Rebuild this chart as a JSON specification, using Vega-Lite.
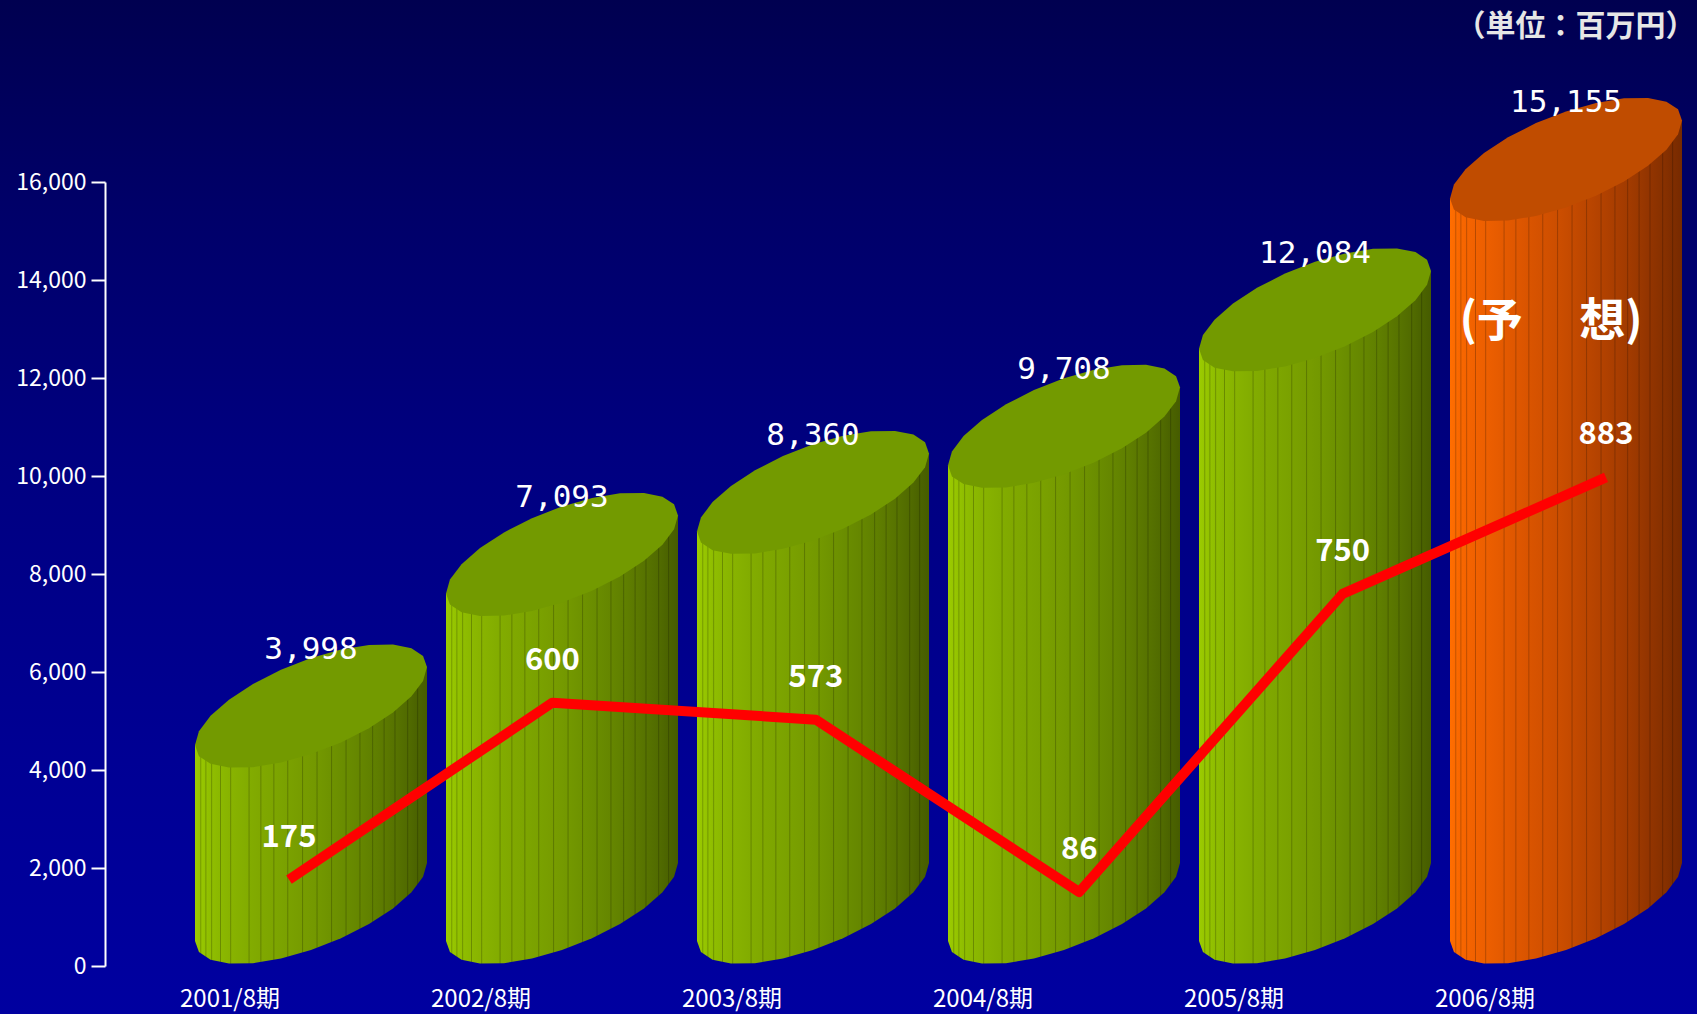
{
  "$schema": "https://vega.github.io/schema/vega-lite/v6.json",
  "width": 1697,
  "height": 1014,
  "autosize": {"type": "none"},
  "padding": 0,
  "background": "#000078",
  "view": {
    "stroke": null,
    "fill": {"gradient": "linear", "x1": 0, "y1": 0, "x2": 0, "y2": 1,
      "stops": [{"offset": 0, "color": "#000050"}, {"offset": 0.2, "color": "#000068"}, {"offset": 0.45, "color": "#000080"}, {"offset": 0.75, "color": "#000094"}, {"offset": 1, "color": "#0000a0"}]}
  },
  "config": {"axis": {"grid": false}, "view": {"stroke": null}},
  "data": {"values": [
    {"period": "2001/8期", "sales": 3998, "profit": 175, "forecast": false},
    {"period": "2002/8期", "sales": 7093, "profit": 600, "forecast": false},
    {"period": "2003/8期", "sales": 8360, "profit": 573, "forecast": false},
    {"period": "2004/8期", "sales": 9708, "profit": 86, "forecast": false},
    {"period": "2005/8期", "sales": 12084, "profit": 750, "forecast": false},
    {"period": "2006/8期", "sales": 15155, "profit": 883, "forecast": true}
  ]},
  "layer": [
    {
      "encoding": {
        "x": {"field": "period", "type": "nominal", "sort": null,
          "scale": {"type": "band", "range": [185.5, 1691.5], "paddingInner": 0, "paddingOuter": 0},
          "axis": {"orient": "bottom", "offset": -48, "labelOffset": -81, "ticks": false, "domain": false, "labelAngle": 0, "labelFontSize": 24, "labelColor": "#ffffff", "labelFont": "Noto Sans CJK JP", "labelPadding": 21, "title": null}},
        "y": {"field": "sales", "type": "quantitative",
          "scale": {"domain": [0, 16000], "range": [966, 182], "nice": false, "zero": true},
          "axis": {"orient": "left", "offset": -105, "values": [0, 2000, 4000, 6000, 8000, 10000, 12000, 14000, 16000], "format": ",d", "domainColor": "#ffffff", "domainWidth": 2, "tickColor": "#ffffff", "tickWidth": 2, "tickSize": 14, "labelColor": "#ffffff", "labelFontSize": 23, "labelFont": "Noto Sans CJK JP", "labelPadding": 5,
            "title": "（単位：百万円）", "titleX": 1590, "titleY": 26, "titleAngle": 0, "titleAlign": "right", "titleBaseline": "middle", "titleFontSize": 30, "titleFontWeight": "bold", "titleColor": "#e6e6e6", "titleFont": "Noto Sans CJK JP"}}
      },
      "layer": [
        {
          "mark": {"type": "bar", "width": 232, "yOffset": -25, "y2Offset": -103},
          "encoding": {
            "y2": {"datum": 0},
            "fill": {"condition": {"test": "datum.forecast", "value": {"gradient": "linear", "x1": 0, "y1": 0, "x2": 1, "y2": 0, "stops": [{"offset": 0, "color": "#ff6e00"}, {"offset": 0.021, "color": "#fb6a00"}, {"offset": 0.025, "color": "#bd5000"}, {"offset": 0.029, "color": "#fb6a00"}, {"offset": 0.043, "color": "#f86700"}, {"offset": 0.047, "color": "#ba4d00"}, {"offset": 0.051, "color": "#f86700"}, {"offset": 0.068, "color": "#f56400"}, {"offset": 0.072, "color": "#b84b00"}, {"offset": 0.076, "color": "#f56400"}, {"offset": 0.106, "color": "#f16100"}, {"offset": 0.11, "color": "#b54900"}, {"offset": 0.114, "color": "#f16100"}, {"offset": 0.15, "color": "#ed5f00"}, {"offset": 0.154, "color": "#b14700"}, {"offset": 0.158, "color": "#ed5f00"}, {"offset": 0.229, "color": "#e45a00"}, {"offset": 0.233, "color": "#ab4400"}, {"offset": 0.237, "color": "#e45a00"}, {"offset": 0.28, "color": "#df5700"}, {"offset": 0.284, "color": "#a74200"}, {"offset": 0.288, "color": "#df5700"}, {"offset": 0.336, "color": "#d95400"}, {"offset": 0.34, "color": "#a33f00"}, {"offset": 0.344, "color": "#d95400"}, {"offset": 0.396, "color": "#d35100"}, {"offset": 0.4, "color": "#9e3d00"}, {"offset": 0.404, "color": "#d35100"}, {"offset": 0.46, "color": "#cc4e00"}, {"offset": 0.464, "color": "#993a00"}, {"offset": 0.468, "color": "#cc4e00"}, {"offset": 0.522, "color": "#c44a00"}, {"offset": 0.526, "color": "#933800"}, {"offset": 0.53, "color": "#c44a00"}, {"offset": 0.585, "color": "#bb4600"}, {"offset": 0.589, "color": "#8d3500"}, {"offset": 0.593, "color": "#bb4600"}, {"offset": 0.647, "color": "#b34200"}, {"offset": 0.651, "color": "#863200"}, {"offset": 0.655, "color": "#b34200"}, {"offset": 0.707, "color": "#aa3e00"}, {"offset": 0.711, "color": "#802f00"}, {"offset": 0.715, "color": "#aa3e00"}, {"offset": 0.762, "color": "#a23b00"}, {"offset": 0.766, "color": "#7a2c00"}, {"offset": 0.77, "color": "#a23b00"}, {"offset": 0.811, "color": "#9a3800"}, {"offset": 0.815, "color": "#742a00"}, {"offset": 0.819, "color": "#9a3800"}, {"offset": 0.858, "color": "#923400"}, {"offset": 0.862, "color": "#6e2700"}, {"offset": 0.866, "color": "#923400"}, {"offset": 0.913, "color": "#883100"}, {"offset": 0.917, "color": "#662400"}, {"offset": 0.921, "color": "#883100"}, {"offset": 0.956, "color": "#7f2d00"}, {"offset": 0.96, "color": "#5f2200"}, {"offset": 0.964, "color": "#7f2d00"}, {"offset": 1, "color": "#762a00"}]}},
              "value": {"gradient": "linear", "x1": 0, "y1": 0, "x2": 1, "y2": 0, "stops": [{"offset": 0, "color": "#9ccc00"}, {"offset": 0.021, "color": "#97c600"}, {"offset": 0.025, "color": "#719500"}, {"offset": 0.029, "color": "#97c600"}, {"offset": 0.043, "color": "#93c200"}, {"offset": 0.047, "color": "#6e9100"}, {"offset": 0.051, "color": "#93c200"}, {"offset": 0.068, "color": "#8fbd00"}, {"offset": 0.072, "color": "#6b8e00"}, {"offset": 0.076, "color": "#8fbd00"}, {"offset": 0.106, "color": "#8bb800"}, {"offset": 0.11, "color": "#698a00"}, {"offset": 0.114, "color": "#8bb800"}, {"offset": 0.15, "color": "#88b300"}, {"offset": 0.154, "color": "#668600"}, {"offset": 0.158, "color": "#88b300"}, {"offset": 0.229, "color": "#82ac00"}, {"offset": 0.233, "color": "#628100"}, {"offset": 0.237, "color": "#82ac00"}, {"offset": 0.28, "color": "#80a800"}, {"offset": 0.284, "color": "#607e00"}, {"offset": 0.288, "color": "#80a800"}, {"offset": 0.336, "color": "#7da500"}, {"offset": 0.34, "color": "#5e7b00"}, {"offset": 0.344, "color": "#7da500"}, {"offset": 0.396, "color": "#7aa100"}, {"offset": 0.4, "color": "#5c7800"}, {"offset": 0.404, "color": "#7aa100"}, {"offset": 0.46, "color": "#779c00"}, {"offset": 0.464, "color": "#597500"}, {"offset": 0.468, "color": "#779c00"}, {"offset": 0.522, "color": "#739800"}, {"offset": 0.526, "color": "#567200"}, {"offset": 0.53, "color": "#739800"}, {"offset": 0.585, "color": "#6e9200"}, {"offset": 0.589, "color": "#536d00"}, {"offset": 0.593, "color": "#6e9200"}, {"offset": 0.647, "color": "#698c00"}, {"offset": 0.651, "color": "#4f6900"}, {"offset": 0.655, "color": "#698c00"}, {"offset": 0.707, "color": "#658600"}, {"offset": 0.711, "color": "#4c6500"}, {"offset": 0.715, "color": "#658600"}, {"offset": 0.762, "color": "#608000"}, {"offset": 0.766, "color": "#486000"}, {"offset": 0.77, "color": "#608000"}, {"offset": 0.811, "color": "#5c7900"}, {"offset": 0.815, "color": "#455b00"}, {"offset": 0.819, "color": "#5c7900"}, {"offset": 0.858, "color": "#577300"}, {"offset": 0.862, "color": "#415600"}, {"offset": 0.866, "color": "#577300"}, {"offset": 0.913, "color": "#516b00"}, {"offset": 0.917, "color": "#3d5000"}, {"offset": 0.921, "color": "#516b00"}, {"offset": 0.956, "color": "#4b6300"}, {"offset": 0.96, "color": "#384a00"}, {"offset": 0.964, "color": "#4b6300"}, {"offset": 1, "color": "#465c00"}]}}
          }
        },
        {
          "mark": {"type": "point", "filled": true, "opacity": 1, "strokeWidth": 0, "size": 53824, "yOffset": -64,
            "shape": "M-1,-0.39 L1,-0.39 L1,-0.336 L0.966,-0.217 L0.866,-0.084 L0.707,0.055 L0.5,0.19 L0.259,0.313 L0,0.414 L-0.259,0.487 L-0.5,0.527 L-0.707,0.53 L-0.866,0.498 L-0.966,0.432 L-1,0.336 Z"},
          "encoding": {
            "y": {"datum": 0, "type": "quantitative"},
            "fill": {"condition": {"test": "datum.forecast", "value": {"gradient": "linear", "x1": 0, "y1": 0, "x2": 1, "y2": 0, "stops": [{"offset": 0, "color": "#ff6e00"}, {"offset": 0.021, "color": "#fb6a00"}, {"offset": 0.025, "color": "#bd5000"}, {"offset": 0.029, "color": "#fb6a00"}, {"offset": 0.043, "color": "#f86700"}, {"offset": 0.047, "color": "#ba4d00"}, {"offset": 0.051, "color": "#f86700"}, {"offset": 0.068, "color": "#f56400"}, {"offset": 0.072, "color": "#b84b00"}, {"offset": 0.076, "color": "#f56400"}, {"offset": 0.106, "color": "#f16100"}, {"offset": 0.11, "color": "#b54900"}, {"offset": 0.114, "color": "#f16100"}, {"offset": 0.15, "color": "#ed5f00"}, {"offset": 0.154, "color": "#b14700"}, {"offset": 0.158, "color": "#ed5f00"}, {"offset": 0.229, "color": "#e45a00"}, {"offset": 0.233, "color": "#ab4400"}, {"offset": 0.237, "color": "#e45a00"}, {"offset": 0.28, "color": "#df5700"}, {"offset": 0.284, "color": "#a74200"}, {"offset": 0.288, "color": "#df5700"}, {"offset": 0.336, "color": "#d95400"}, {"offset": 0.34, "color": "#a33f00"}, {"offset": 0.344, "color": "#d95400"}, {"offset": 0.396, "color": "#d35100"}, {"offset": 0.4, "color": "#9e3d00"}, {"offset": 0.404, "color": "#d35100"}, {"offset": 0.46, "color": "#cc4e00"}, {"offset": 0.464, "color": "#993a00"}, {"offset": 0.468, "color": "#cc4e00"}, {"offset": 0.522, "color": "#c44a00"}, {"offset": 0.526, "color": "#933800"}, {"offset": 0.53, "color": "#c44a00"}, {"offset": 0.585, "color": "#bb4600"}, {"offset": 0.589, "color": "#8d3500"}, {"offset": 0.593, "color": "#bb4600"}, {"offset": 0.647, "color": "#b34200"}, {"offset": 0.651, "color": "#863200"}, {"offset": 0.655, "color": "#b34200"}, {"offset": 0.707, "color": "#aa3e00"}, {"offset": 0.711, "color": "#802f00"}, {"offset": 0.715, "color": "#aa3e00"}, {"offset": 0.762, "color": "#a23b00"}, {"offset": 0.766, "color": "#7a2c00"}, {"offset": 0.77, "color": "#a23b00"}, {"offset": 0.811, "color": "#9a3800"}, {"offset": 0.815, "color": "#742a00"}, {"offset": 0.819, "color": "#9a3800"}, {"offset": 0.858, "color": "#923400"}, {"offset": 0.862, "color": "#6e2700"}, {"offset": 0.866, "color": "#923400"}, {"offset": 0.913, "color": "#883100"}, {"offset": 0.917, "color": "#662400"}, {"offset": 0.921, "color": "#883100"}, {"offset": 0.956, "color": "#7f2d00"}, {"offset": 0.96, "color": "#5f2200"}, {"offset": 0.964, "color": "#7f2d00"}, {"offset": 1, "color": "#762a00"}]}},
              "value": {"gradient": "linear", "x1": 0, "y1": 0, "x2": 1, "y2": 0, "stops": [{"offset": 0, "color": "#9ccc00"}, {"offset": 0.021, "color": "#97c600"}, {"offset": 0.025, "color": "#719500"}, {"offset": 0.029, "color": "#97c600"}, {"offset": 0.043, "color": "#93c200"}, {"offset": 0.047, "color": "#6e9100"}, {"offset": 0.051, "color": "#93c200"}, {"offset": 0.068, "color": "#8fbd00"}, {"offset": 0.072, "color": "#6b8e00"}, {"offset": 0.076, "color": "#8fbd00"}, {"offset": 0.106, "color": "#8bb800"}, {"offset": 0.11, "color": "#698a00"}, {"offset": 0.114, "color": "#8bb800"}, {"offset": 0.15, "color": "#88b300"}, {"offset": 0.154, "color": "#668600"}, {"offset": 0.158, "color": "#88b300"}, {"offset": 0.229, "color": "#82ac00"}, {"offset": 0.233, "color": "#628100"}, {"offset": 0.237, "color": "#82ac00"}, {"offset": 0.28, "color": "#80a800"}, {"offset": 0.284, "color": "#607e00"}, {"offset": 0.288, "color": "#80a800"}, {"offset": 0.336, "color": "#7da500"}, {"offset": 0.34, "color": "#5e7b00"}, {"offset": 0.344, "color": "#7da500"}, {"offset": 0.396, "color": "#7aa100"}, {"offset": 0.4, "color": "#5c7800"}, {"offset": 0.404, "color": "#7aa100"}, {"offset": 0.46, "color": "#779c00"}, {"offset": 0.464, "color": "#597500"}, {"offset": 0.468, "color": "#779c00"}, {"offset": 0.522, "color": "#739800"}, {"offset": 0.526, "color": "#567200"}, {"offset": 0.53, "color": "#739800"}, {"offset": 0.585, "color": "#6e9200"}, {"offset": 0.589, "color": "#536d00"}, {"offset": 0.593, "color": "#6e9200"}, {"offset": 0.647, "color": "#698c00"}, {"offset": 0.651, "color": "#4f6900"}, {"offset": 0.655, "color": "#698c00"}, {"offset": 0.707, "color": "#658600"}, {"offset": 0.711, "color": "#4c6500"}, {"offset": 0.715, "color": "#658600"}, {"offset": 0.762, "color": "#608000"}, {"offset": 0.766, "color": "#486000"}, {"offset": 0.77, "color": "#608000"}, {"offset": 0.811, "color": "#5c7900"}, {"offset": 0.815, "color": "#455b00"}, {"offset": 0.819, "color": "#5c7900"}, {"offset": 0.858, "color": "#577300"}, {"offset": 0.862, "color": "#415600"}, {"offset": 0.866, "color": "#577300"}, {"offset": 0.913, "color": "#516b00"}, {"offset": 0.917, "color": "#3d5000"}, {"offset": 0.921, "color": "#516b00"}, {"offset": 0.956, "color": "#4b6300"}, {"offset": 0.96, "color": "#384a00"}, {"offset": 0.964, "color": "#4b6300"}, {"offset": 1, "color": "#465c00"}]}}
          }
        },
        {
          "mark": {"type": "point", "filled": true, "opacity": 1, "strokeWidth": 0, "size": 53824, "yOffset": -64,
            "shape": "M-1,0.336 L1,-0.336 L1,0.39 L-1,0.39 Z"},
          "encoding": {
            "fill": {"condition": {"test": "datum.forecast", "value": {"gradient": "linear", "x1": 0, "y1": 0, "x2": 1, "y2": 0, "stops": [{"offset": 0, "color": "#ff6e00"}, {"offset": 0.021, "color": "#fb6a00"}, {"offset": 0.025, "color": "#bd5000"}, {"offset": 0.029, "color": "#fb6a00"}, {"offset": 0.043, "color": "#f86700"}, {"offset": 0.047, "color": "#ba4d00"}, {"offset": 0.051, "color": "#f86700"}, {"offset": 0.068, "color": "#f56400"}, {"offset": 0.072, "color": "#b84b00"}, {"offset": 0.076, "color": "#f56400"}, {"offset": 0.106, "color": "#f16100"}, {"offset": 0.11, "color": "#b54900"}, {"offset": 0.114, "color": "#f16100"}, {"offset": 0.15, "color": "#ed5f00"}, {"offset": 0.154, "color": "#b14700"}, {"offset": 0.158, "color": "#ed5f00"}, {"offset": 0.229, "color": "#e45a00"}, {"offset": 0.233, "color": "#ab4400"}, {"offset": 0.237, "color": "#e45a00"}, {"offset": 0.28, "color": "#df5700"}, {"offset": 0.284, "color": "#a74200"}, {"offset": 0.288, "color": "#df5700"}, {"offset": 0.336, "color": "#d95400"}, {"offset": 0.34, "color": "#a33f00"}, {"offset": 0.344, "color": "#d95400"}, {"offset": 0.396, "color": "#d35100"}, {"offset": 0.4, "color": "#9e3d00"}, {"offset": 0.404, "color": "#d35100"}, {"offset": 0.46, "color": "#cc4e00"}, {"offset": 0.464, "color": "#993a00"}, {"offset": 0.468, "color": "#cc4e00"}, {"offset": 0.522, "color": "#c44a00"}, {"offset": 0.526, "color": "#933800"}, {"offset": 0.53, "color": "#c44a00"}, {"offset": 0.585, "color": "#bb4600"}, {"offset": 0.589, "color": "#8d3500"}, {"offset": 0.593, "color": "#bb4600"}, {"offset": 0.647, "color": "#b34200"}, {"offset": 0.651, "color": "#863200"}, {"offset": 0.655, "color": "#b34200"}, {"offset": 0.707, "color": "#aa3e00"}, {"offset": 0.711, "color": "#802f00"}, {"offset": 0.715, "color": "#aa3e00"}, {"offset": 0.762, "color": "#a23b00"}, {"offset": 0.766, "color": "#7a2c00"}, {"offset": 0.77, "color": "#a23b00"}, {"offset": 0.811, "color": "#9a3800"}, {"offset": 0.815, "color": "#742a00"}, {"offset": 0.819, "color": "#9a3800"}, {"offset": 0.858, "color": "#923400"}, {"offset": 0.862, "color": "#6e2700"}, {"offset": 0.866, "color": "#923400"}, {"offset": 0.913, "color": "#883100"}, {"offset": 0.917, "color": "#662400"}, {"offset": 0.921, "color": "#883100"}, {"offset": 0.956, "color": "#7f2d00"}, {"offset": 0.96, "color": "#5f2200"}, {"offset": 0.964, "color": "#7f2d00"}, {"offset": 1, "color": "#762a00"}]}},
              "value": {"gradient": "linear", "x1": 0, "y1": 0, "x2": 1, "y2": 0, "stops": [{"offset": 0, "color": "#9ccc00"}, {"offset": 0.021, "color": "#97c600"}, {"offset": 0.025, "color": "#719500"}, {"offset": 0.029, "color": "#97c600"}, {"offset": 0.043, "color": "#93c200"}, {"offset": 0.047, "color": "#6e9100"}, {"offset": 0.051, "color": "#93c200"}, {"offset": 0.068, "color": "#8fbd00"}, {"offset": 0.072, "color": "#6b8e00"}, {"offset": 0.076, "color": "#8fbd00"}, {"offset": 0.106, "color": "#8bb800"}, {"offset": 0.11, "color": "#698a00"}, {"offset": 0.114, "color": "#8bb800"}, {"offset": 0.15, "color": "#88b300"}, {"offset": 0.154, "color": "#668600"}, {"offset": 0.158, "color": "#88b300"}, {"offset": 0.229, "color": "#82ac00"}, {"offset": 0.233, "color": "#628100"}, {"offset": 0.237, "color": "#82ac00"}, {"offset": 0.28, "color": "#80a800"}, {"offset": 0.284, "color": "#607e00"}, {"offset": 0.288, "color": "#80a800"}, {"offset": 0.336, "color": "#7da500"}, {"offset": 0.34, "color": "#5e7b00"}, {"offset": 0.344, "color": "#7da500"}, {"offset": 0.396, "color": "#7aa100"}, {"offset": 0.4, "color": "#5c7800"}, {"offset": 0.404, "color": "#7aa100"}, {"offset": 0.46, "color": "#779c00"}, {"offset": 0.464, "color": "#597500"}, {"offset": 0.468, "color": "#779c00"}, {"offset": 0.522, "color": "#739800"}, {"offset": 0.526, "color": "#567200"}, {"offset": 0.53, "color": "#739800"}, {"offset": 0.585, "color": "#6e9200"}, {"offset": 0.589, "color": "#536d00"}, {"offset": 0.593, "color": "#6e9200"}, {"offset": 0.647, "color": "#698c00"}, {"offset": 0.651, "color": "#4f6900"}, {"offset": 0.655, "color": "#698c00"}, {"offset": 0.707, "color": "#658600"}, {"offset": 0.711, "color": "#4c6500"}, {"offset": 0.715, "color": "#658600"}, {"offset": 0.762, "color": "#608000"}, {"offset": 0.766, "color": "#486000"}, {"offset": 0.77, "color": "#608000"}, {"offset": 0.811, "color": "#5c7900"}, {"offset": 0.815, "color": "#455b00"}, {"offset": 0.819, "color": "#5c7900"}, {"offset": 0.858, "color": "#577300"}, {"offset": 0.862, "color": "#415600"}, {"offset": 0.866, "color": "#577300"}, {"offset": 0.913, "color": "#516b00"}, {"offset": 0.917, "color": "#3d5000"}, {"offset": 0.921, "color": "#516b00"}, {"offset": 0.956, "color": "#4b6300"}, {"offset": 0.96, "color": "#384a00"}, {"offset": 0.964, "color": "#4b6300"}, {"offset": 1, "color": "#465c00"}]}}
          }
        },
        {
          "mark": {"type": "point", "filled": true, "opacity": 1, "strokeWidth": 0, "size": 53824, "yOffset": -64,
            "shape": "M1,-0.336 L0.966,-0.217 L0.866,-0.084 L0.707,0.055 L0.5,0.19 L0.259,0.313 L0,0.414 L-0.259,0.487 L-0.5,0.527 L-0.707,0.53 L-0.866,0.498 L-0.966,0.432 L-1,0.336 L-0.966,0.217 L-0.866,0.084 L-0.707,-0.055 L-0.5,-0.19 L-0.259,-0.313 L0,-0.414 L0.259,-0.487 L0.5,-0.527 L0.707,-0.53 L0.866,-0.498 L0.966,-0.432 Z"},
          "encoding": {
            "fill": {"condition": {"test": "datum.forecast", "value": "#c04c00"}, "value": "#739a00"}
          }
        },
        {
          "mark": {"type": "text", "font": "DejaVu Sans Mono", "fontSize": 31, "color": "#ffffff", "baseline": "middle", "align": "center", "yOffset": -120},
          "encoding": {"text": {"field": "sales", "type": "quantitative", "format": ",d"}}
        },
        {
          "transform": [{"filter": "datum.forecast"}],
          "mark": {"type": "text", "font": "Noto Sans CJK JP", "fontSize": 46, "fontWeight": "bold", "color": "#ffffff", "baseline": "middle", "align": "center", "xOffset": -15, "yOffset": 99},
          "encoding": {"text": {"value": "(予　  想)"}}
        }
      ]
    },
    {
      "encoding": {
        "x": {"field": "period", "type": "ordinal", "sort": null,
          "scale": {"type": "point", "range": [289, 1606], "padding": 0}, "axis": null},
        "y": {"field": "profit", "type": "quantitative",
          "scale": {"type": "pow", "exponent": 2, "domain": [0, 1000], "range": [896, 359], "nice": false, "zero": false}, "axis": null}
      },
      "layer": [
        {"mark": {"type": "line", "color": "#ff0000", "strokeWidth": 10, "strokeJoin": "round", "strokeCap": "butt"}},
        {"mark": {"type": "text", "font": "Noto Sans CJK JP", "fontSize": 31, "fontWeight": "bold", "color": "#ffffff", "baseline": "middle", "align": "center", "yOffset": -42},
          "encoding": {"text": {"field": "profit", "type": "quantitative", "format": "d"}}}
      ]
    }
  ],
  "resolve": {"scale": {"x": "independent", "y": "independent"}, "axis": {"x": "independent", "y": "independent"}}
}
